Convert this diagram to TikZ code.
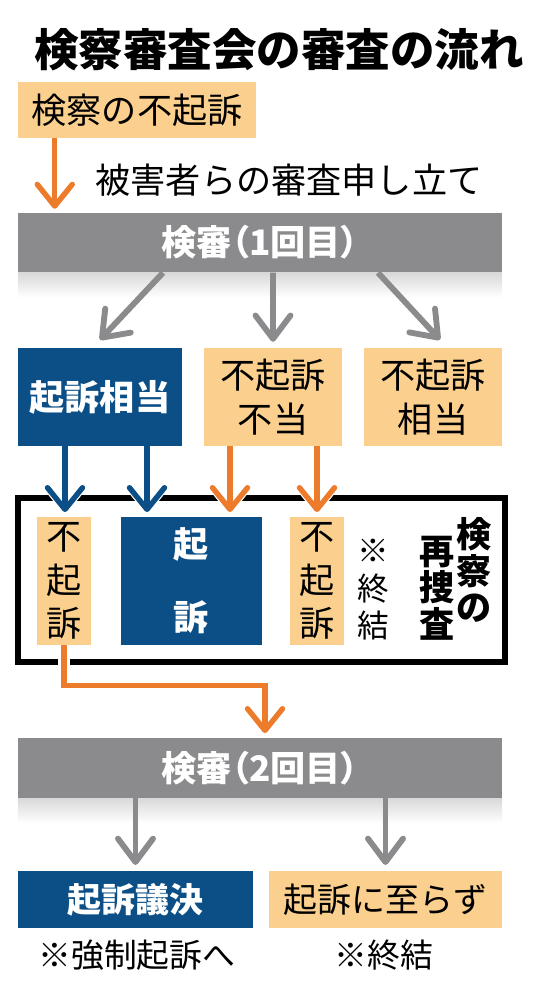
\documentclass[tikz,border=0pt]{standalone}
\usepackage{fontspec}
\setmainfont{Noto Sans CJK JP}
\usetikzlibrary{arrows.meta,positioning}
\definecolor{kenorange}{HTML}{FBD08F}
\definecolor{kenarrow}{HTML}{EC7C2C}
\definecolor{kenblue}{HTML}{0C4F86}
\definecolor{kengray}{HTML}{8B8B8E}

\begin{document}
\begin{tikzpicture}[
  x=0.03cm, y=-0.03cm,
  box/.style={rectangle, inner sep=0pt, align=center, font=\fontsize{30}{37}\selectfont},
  palebox/.style={box, fill=kenorange, text=black},
  navybox/.style={box, fill=kenblue, text=white, font=\fontsize{30}{37}\selectfont\bfseries},
  bar/.style={box, fill=kengray, text=white, minimum width=14.52cm, minimum height=1.8cm, font=\fontsize{30}{32}\selectfont\bfseries\addfontfeatures{RawFeature=+palt}},
  garrow/.style={draw=kengray, line width=5pt, -{Straight Barb[length=0.7cm, width=1.05cm, round]}},
  oarrow/.style={draw=kenarrow, line width=4.6pt, -{Straight Barb[length=0.65cm, width=1.05cm, round]}},
  barrow/.style={draw=kenblue, line width=4.6pt, -{Straight Barb[length=0.65cm, width=1.05cm, round]}},
  halo/.style={preaction={draw=white, line width=10pt}},
]
  \useasboundingbox (0,0) rectangle (558,1000);

  % title and first step
  \node[font=\fontsize{38}{40}\selectfont\bfseries] (title) at (279,50) {検察審査会の審査の流れ};
  \node[palebox, minimum width=7.14cm, minimum height=1.68cm] (start) at (137,110) {検察の不起訴};
  \node[font=\fontsize{30}{32}\selectfont] (appeal) at (289,180) {被害者らの審査申し立て};

  % first review
  \node[bar] (bar1) at (260,242.5) {検審（1回目）};
  \shade[top color=black!15, bottom color=white] (bar1.south west) rectangle ([yshift=-0.75cm]bar1.south east);
  \node[navybox, minimum width=4.92cm, minimum height=2.94cm] (kisoA) at (100,397) {起訴相当};
  \node[palebox, minimum width=4.14cm, minimum height=2.94cm] (fuA) at (273,397) {不起訴\\不当};
  \node[palebox, minimum width=4.14cm, minimum height=2.94cm] (fuB) at (433,397) {不起訴\\相当};

  % reinvestigation
  \node[draw, line width=5pt, minimum width=14.61cm, minimum height=4.92cm] (frame) at (261.5,580) {};
  \node[palebox, minimum width=1.62cm, minimum height=3.84cm] (fu1) at (64,581) {不\\起\\訴};
  \node[navybox, minimum width=4.23cm, minimum height=3.84cm, font=\fontsize{30}{62}\selectfont\bfseries] (kiso2) at (191.5,581) {起\\訴};
  \node[palebox, minimum width=1.62cm, minimum height=3.84cm] (fu3) at (317,581) {不\\起\\訴};
  \node[font=\fontsize{27}{32}\selectfont, align=center] (end1) at (373,590) {※\\終\\結};
  \node[font=\fontsize{30}{31}\selectfont\bfseries, align=center] (kensatsu) at (474,570) {検\\察\\の};
  \node[font=\fontsize{30}{31}\selectfont\bfseries, align=center] (saisousa) at (437,588) {再\\捜\\査};

  % second review
  \node[bar] (bar2) at (260,768) {検審（2回目）};
  \shade[top color=black!15, bottom color=white] (bar2.south west) rectangle ([yshift=-0.75cm]bar2.south east);
  \node[navybox, minimum width=7.05cm, minimum height=1.71cm, font=\fontsize{29}{31}\selectfont\bfseries] (giketsu) at (135.5,899.5) {起訴議決};
  \node[palebox, minimum width=6.99cm, minimum height=1.71cm, font=\fontsize{29}{31}\selectfont] (itarazu) at (385.5,899.5) {起訴に至らず};
  \node[font=\fontsize{28}{30}\selectfont] (kyosei) at (137,955) {※強制起訴へ};
  \node[font=\fontsize{28}{30}\selectfont] (end2) at (384,955) {※終結};

  % arrows
  \coordinate (s1) at ([xshift=1.11cm]start.south west);
  \draw[oarrow, shorten >=3pt] (s1) -- (s1 |- bar1.north);
  \draw[garrow] ([xshift=-2.91cm]bar1.south) -- ([yshift=0.24cm]kisoA.north);
  \draw[garrow] ([xshift=0.39cm]bar1.south) -- ([yshift=0.18cm]fuA.north);
  \draw[garrow] ([xshift=3.54cm]bar1.south) -- ([xshift=0.21cm, yshift=0.24cm]fuB.north);

  \coordinate (b1) at ([xshift=-1.05cm]kisoA.south);
  \coordinate (b2) at ([xshift=1.41cm]kisoA.south);
  \coordinate (o1) at ([xshift=-1.29cm]fuA.south);
  \coordinate (o2) at ([xshift=1.32cm]fuA.south);
  \draw[barrow, halo, shorten >=4pt] (b1) -- (b1 |- fu1.north);
  \draw[barrow, halo, shorten >=4pt] (b2) -- (b2 |- kiso2.north);
  \draw[oarrow, halo, shorten >=4pt] (o1) -- (o1 |- kiso2.north);
  \draw[oarrow, halo, shorten >=4pt] (o2) -- (o2 |- fu3.north);

  \draw[oarrow, halo, shorten >=4pt] (fu1.south) -- ++(0,40) -| ([xshift=0.15cm]bar2.north);
  \draw[garrow, shorten >=5pt] (bar2.south -| giketsu.north) -- (giketsu.north);
  \draw[garrow, shorten >=5pt] (bar2.south -| itarazu.north) -- (itarazu.north);
\end{tikzpicture}
\end{document}
